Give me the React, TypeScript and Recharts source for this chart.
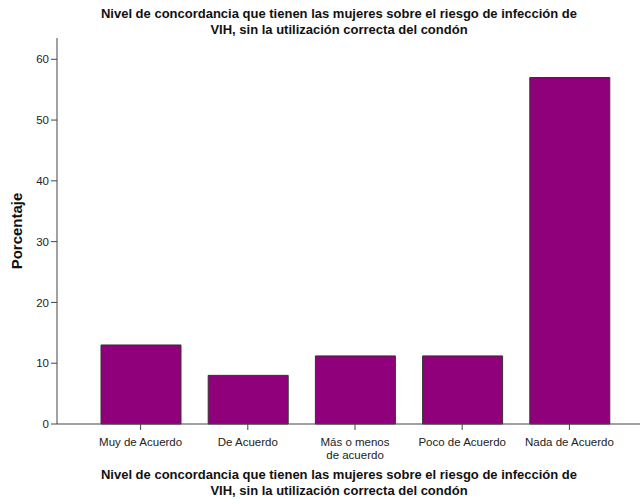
import { BarChart, Bar, XAxis, YAxis } from "recharts";

const categories = [
  "Muy de Acuerdo",
  "De Acuerdo",
  "Más o menos\nde acuerdo",
  "Poco de Acuerdo",
  "Nada de Acuerdo",
];
const porcentajes = [13.0, 8.0, 11.2, 11.2, 57.0];
const yTicks = [0, 10, 20, 30, 40, 50, 60];

const data = categories.map((c, i) => ({ nivel: c, porcentaje: porcentajes[i] }));

const titleLines = [
  "Nivel de concordancia que tienen las mujeres sobre el riesgo de infección de",
  "VIH, sin la utilización correcta del condón",
];

const font = "'Liberation Sans', Arial, sans-serif";

function CategoryTick(props: any) {
  const { x, y, payload } = props;
  const lines = String(payload.value).split("\n");
  return (
    <g transform={`translate(${x},${y})`}>
      {lines.map((line, i) => (
        <text
          key={i}
          x={0}
          y={14 + i * 13}
          textAnchor="middle"
          fontSize={11.5}
          fontFamily={font}
          fill="#222"
        >
          {line}
        </text>
      ))}
    </g>
  );
}

function Title({ top }: { top: number }) {
  return (
    <div
      style={{
        position: "absolute",
        left: 0,
        top,
        width: 678,
        textAlign: "center",
        fontFamily: font,
        fontWeight: "bold",
        fontSize: 13,
        lineHeight: "16px",
        color: "#111",
      }}
    >
      {titleLines.map((l, i) => (
        <div key={i}>{l}</div>
      ))}
    </div>
  );
}

export default function App() {
  return (
    <div style={{ position: "absolute", left: 0, top: 0, width: 641, height: 499, background: "#fff" }}>
      <Title top={6} />
      <BarChart
        width={641}
        height={499}
        data={data}
        margin={{ top: 38, right: 1, bottom: 45, left: 0 }}
        barSize={80}
      >
        <XAxis
          dataKey="nivel"
          height={30}
          interval={0}
          padding={{ left: 30, right: 17 }}
          stroke="#444"
          tickSize={6}
          tick={<CategoryTick />}
        />
        <YAxis
          width={57}
          domain={[0, 63.5]}
          ticks={yTicks}
          stroke="#444"
          tickSize={6}
          tickMargin={2}
          tick={{ fontSize: 11.5, fontFamily: font, fill: "#222" }}
          label={{
            value: "Porcentaje",
            angle: -90,
            position: "insideLeft",
            offset: 17,
            style: { fontSize: 15, fontWeight: "bold", fontFamily: font, fill: "#111", textAnchor: "middle" },
          }}
        />
        <Bar
          dataKey="porcentaje"
          fill="#91007b"
          stroke="#333"
          strokeWidth={1}
          isAnimationActive={false}
        />
      </BarChart>
      <Title top={467} />
    </div>
  );
}
